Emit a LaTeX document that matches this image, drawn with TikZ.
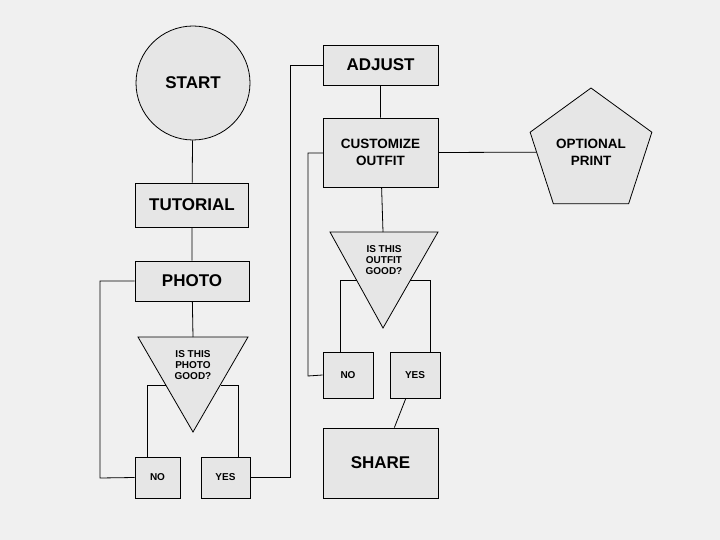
\documentclass[tikz,border=0pt]{standalone}
\usepackage{fontspec}
\setmainfont{Liberation Sans}
\usetikzlibrary{shapes.geometric}
\definecolor{bgc}{HTML}{F0F0F0}
\definecolor{boxc}{HTML}{E6E6E6}
\tikzset{
  box/.style={draw,fill=boxc,thick,font=\bfseries\fontsize{17}{19}\selectfont,align=center},
  smallbox/.style={draw,fill=boxc,thick,font=\bfseries\fontsize{10}{12}\selectfont},
  tri/.style={draw,fill=boxc,thick},
  trilabel/.style={font=\bfseries\fontsize{10}{11}\selectfont,align=center},
  wire/.style={thick}
}
\begin{document}
\begin{tikzpicture}[x=1pt,y=-1pt]
    \fill[bgc] (0,0) rectangle (720,540);
    \useasboundingbox (0,0) rectangle (720,540);
    % left column
    \node[box,circle,minimum size=114pt,inner sep=0pt] (start) at (193,83) {START};
    \node[box,minimum width=113pt,minimum height=44pt] (tutorial) at (192,205) {TUTORIAL};
    \node[box,minimum width=114pt,minimum height=40pt] (photo) at (192,281) {PHOTO};
    \path (138,337) coordinate (pt1) (248,337) coordinate (pt2) (193,432) coordinate (pt3);
    \draw[tri] (pt1) -- (pt2) -- (pt3) -- cycle;
    \node[trilabel] (photoq) at (193,365) {IS THIS\\PHOTO\\GOOD?};
    \node[smallbox,minimum width=45pt,minimum height=41pt] (pno) at (157.5,477.5) {NO};
    \node[smallbox,minimum width=49pt,minimum height=41pt] (pyes) at (225.5,477.5) {YES};
    \draw[wire] (start) -- (tutorial) -- (photo) -- (193,337);
    \draw[wire] (166,385) -| (pno.north -| 147,0);
    \draw[wire] (221,385) -| (pyes.north -| 238,0);
    \draw[wire] (photo.west) -| (100,478) -- (pno.west);
    % right column
    \node[box,minimum width=115pt,minimum height=40pt] (adjust) at (380.5,65) {ADJUST};
    \node[box,minimum width=115pt,minimum height=69pt,font=\bfseries\fontsize{13.5}{17}\selectfont] (custom) at (380.5,152.5) {CUSTOMIZE\\OUTFIT};
    \node[box,regular polygon,regular polygon sides=5,minimum size=128pt,inner sep=0pt,font=\bfseries\fontsize{13.5}{17}\selectfont] (print) at (591,152) {OPTIONAL\\PRINT};
    \path (330,232) coordinate (ot1) (438,232) coordinate (ot2) (383,328) coordinate (ot3);
    \draw[tri] (ot1) -- (ot2) -- (ot3) -- cycle;
    \node[trilabel] (outfitq) at (384,260) {IS THIS\\OUTFIT\\GOOD?};
    \node[smallbox,minimum width=50pt,minimum height=46pt] (ono) at (348,375) {NO};
    \node[smallbox,minimum width=50pt,minimum height=46pt] (oyes) at (415,375) {YES};
    \node[box,minimum width=115pt,minimum height=70pt] (share) at (380.5,463) {SHARE};
    \draw[wire] (pyes.east) -| (290,65) -- (adjust.west);
    \draw[wire] (adjust) -- (custom) -- (383,232);
    \draw[wire] (custom.east) -- (print);
    \draw[wire] (357,280) -| (ono.north -| 340,0);
    \draw[wire] (410,280) -| (oyes.north -| 430,0);
    \draw[wire] (323,153) -| (308,376) -- (ono.west);
    \draw[wire] (oyes) -- (share);
\end{tikzpicture}
\end{document}
